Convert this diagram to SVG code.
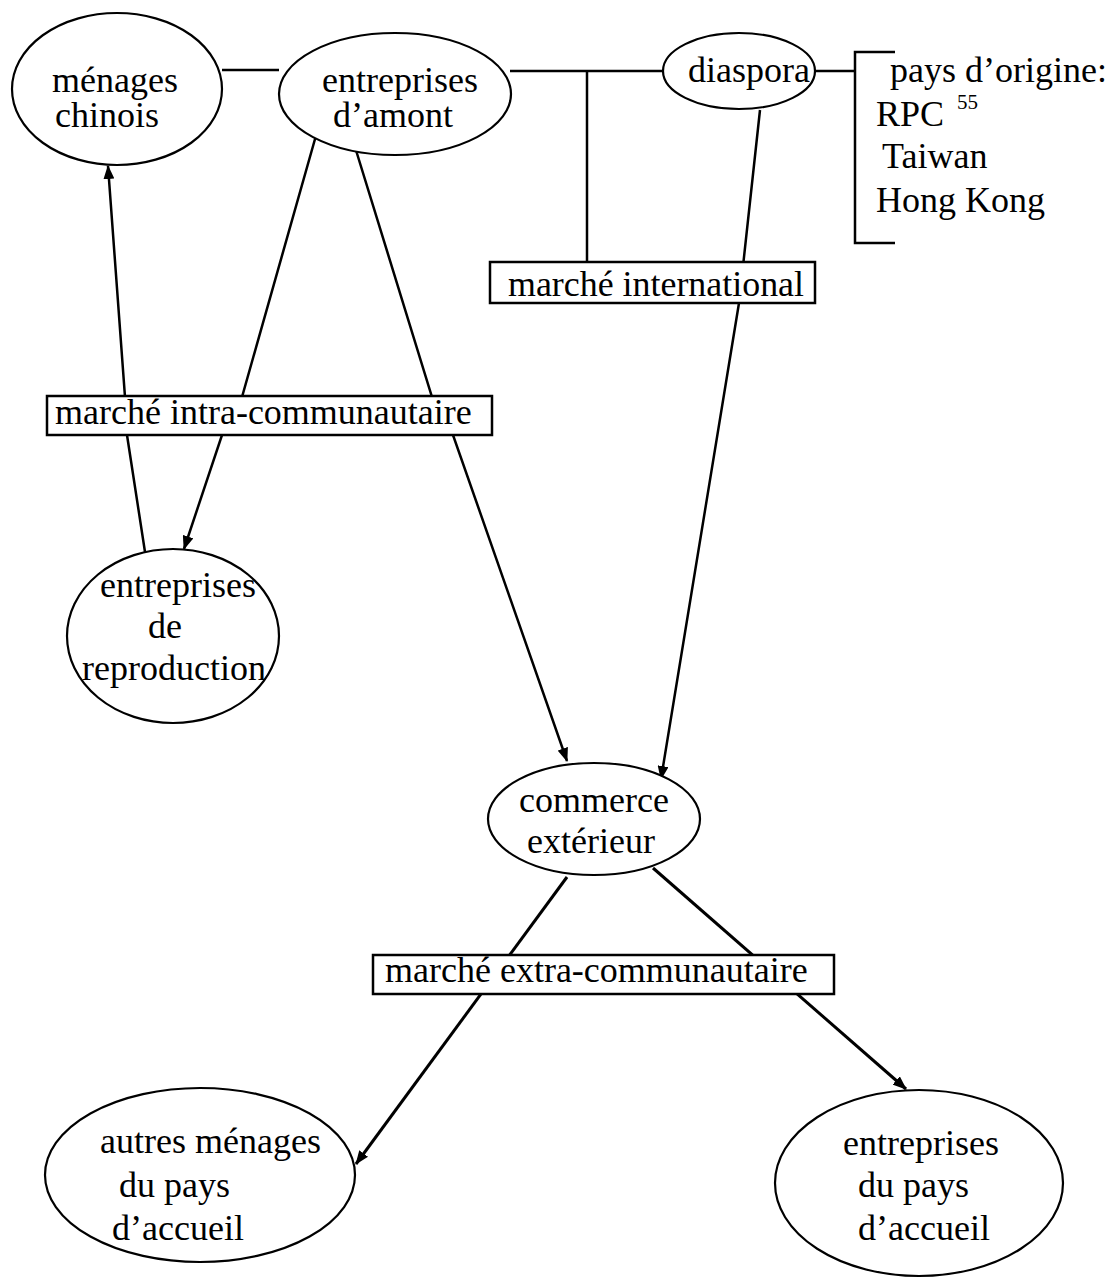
<svg xmlns="http://www.w3.org/2000/svg" width="1115" height="1278" viewBox="0 0 1115 1278">
<style>
.node{fill:#fff;stroke:#000;stroke-width:2.2}
.box{fill:#fff;stroke:#000;stroke-width:2.5}
.t{font-family:"Liberation Serif","Times New Roman",serif;font-size:36px;fill:#000}
.c{fill:none;stroke:#000;stroke-width:2.5}
.thick{stroke-width:3}
</style>
<defs>
<marker id="ah" markerUnits="userSpaceOnUse" markerWidth="14" markerHeight="11" refX="13" refY="5.5" orient="auto">
<path d="M0,0 L14,5.5 L0,11 z" fill="#000"/>
</marker>
</defs>
<rect width="1115" height="1278" fill="#fff"/>
<g id="connectors">
<line class="c" x1="222" y1="70" x2="279" y2="70"/>
<line class="c" x1="510" y1="71" x2="663" y2="71"/>
<line class="c" x1="587" y1="71" x2="587" y2="262"/>
<line class="c" x1="815" y1="71" x2="855" y2="71"/>
<path class="c" d="M895,52 H855 V243 H895"/>
<path class="c" d="M760,110 L739,303 L661,779" marker-end="url(#ah)"/>
<path class="c" d="M355,147 L432,397 L453,435 L567,761" marker-end="url(#ah)"/>
<path class="c" d="M317,132 L242,397 L222,435 L184,549" marker-end="url(#ah)"/>
<path class="c" d="M145,552 L127,435 L125,397 L108,166" marker-end="url(#ah)"/>
<path class="c thick" d="M567,877 L356,1164" marker-end="url(#ah)"/>
<path class="c thick" d="M653,868 L906,1089" marker-end="url(#ah)"/>
</g>
<g id="menages-chinois">
<ellipse class="node" cx="117" cy="89" rx="105" ry="76"/>
<text class="t" x="52" y="92">ménages</text>
<text class="t" x="55" y="127">chinois</text>
</g>
<g id="entreprises-amont">
<ellipse class="node" cx="395" cy="94" rx="116" ry="61"/>
<text class="t" x="322" y="92">entreprises</text>
<text class="t" x="333" y="127">d’amont</text>
</g>
<g id="diaspora">
<ellipse class="node" cx="739" cy="71" rx="76" ry="38"/>
<text class="t" x="688" y="82">diaspora</text>
</g>
<g id="pays-origine">
<text class="t" x="890" y="82">pays d’origine:</text>
<text class="t" x="876" y="126">RPC</text>
<text class="t" x="957" y="109" style="font-size:21px">55</text>
<text class="t" x="882" y="168">Taiwan</text>
<text class="t" x="876" y="212">Hong Kong</text>
</g>
<g id="marche-international">
<rect class="box" x="490" y="262" width="325" height="41"/>
<text class="t" x="508" y="296" textLength="296" lengthAdjust="spacingAndGlyphs">marché international</text>
</g>
<g id="marche-intra">
<rect class="box" x="47" y="396" width="445" height="39"/>
<text class="t" x="55" y="424">marché intra-communautaire</text>
</g>
<g id="entreprises-reproduction">
<ellipse class="node" cx="173" cy="636" rx="106" ry="87"/>
<text class="t" x="100" y="597">entreprises</text>
<text class="t" x="148" y="638">de</text>
<text class="t" x="82" y="680">reproduction</text>
</g>
<g id="commerce-exterieur">
<ellipse class="node" cx="594" cy="819" rx="106" ry="56"/>
<text class="t" x="519" y="812">commerce</text>
<text class="t" x="527" y="853">extérieur</text>
</g>
<g id="marche-extra">
<rect class="box" x="373" y="955" width="461" height="39"/>
<text class="t" x="385" y="982">marché extra-communautaire</text>
</g>
<g id="autres-menages">
<ellipse class="node" cx="200" cy="1175" rx="155" ry="87"/>
<text class="t" x="100" y="1153">autres ménages</text>
<text class="t" x="119" y="1197">du pays</text>
<text class="t" x="112" y="1240">d’accueil</text>
</g>
<g id="entreprises-accueil">
<ellipse class="node" cx="919" cy="1183" rx="144" ry="93"/>
<text class="t" x="843" y="1155">entreprises</text>
<text class="t" x="858" y="1197">du pays</text>
<text class="t" x="858" y="1240">d’accueil</text>
</g>
</svg>
